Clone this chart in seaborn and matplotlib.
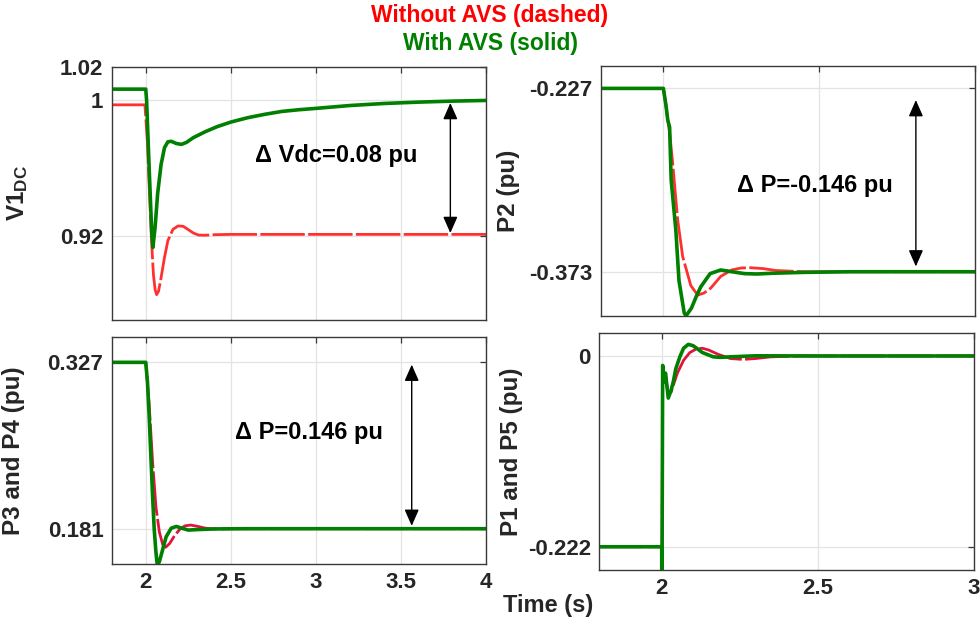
import numpy as np
import pandas as pd
import matplotlib
matplotlib.use("Agg")
import matplotlib.pyplot as plt
import seaborn as sns

sns.set_style("white")
plt.rcParams['font.family'] = ['Liberation Sans', 'DejaVu Sans']
plt.rcParams['mathtext.fontset'] = 'custom'
plt.rcParams['mathtext.rm'] = 'Liberation Sans:bold'
plt.rcParams['mathtext.bf'] = 'Liberation Sans:bold'
plt.rcParams['mathtext.it'] = 'Liberation Sans:bold'

# ---------------- data ----------------
# V1_DC
v1_t_without = [1.8, 1.995, 2.0, 2.01, 2.02, 2.035, 2.045, 2.055, 2.064, 2.075, 2.09, 2.11, 2.13,
                2.16, 2.19, 2.22, 2.25, 2.28, 2.31, 2.35, 2.4, 2.5, 3.0, 4.0]
v1_without = [0.9974, 0.9974, 0.99, 0.975, 0.95, 0.915, 0.897, 0.888, 0.885, 0.887, 0.895, 0.907, 0.917,
              0.9237, 0.9257, 0.9255, 0.9235, 0.9215, 0.9203, 0.9202, 0.9205, 0.9207, 0.9207, 0.9207]
v1_t_with = [1.8, 2.0, 2.005, 2.02, 2.035, 2.042, 2.055, 2.07, 2.09, 2.11, 2.13, 2.15, 2.18, 2.21,
             2.24, 2.28, 2.35, 2.42, 2.5, 2.6, 2.7, 2.8, 2.9, 3.0, 3.2, 3.4, 3.6, 3.8, 4.0]
v1_with = [1.0067, 1.0067, 1.0, 0.96, 0.922, 0.913, 0.925, 0.945, 0.962, 0.972, 0.9755, 0.9758, 0.9745, 0.974,
           0.9752, 0.978, 0.9815, 0.9845, 0.9872, 0.9898, 0.9918, 0.9935, 0.9945, 0.9953, 0.997, 0.9982,
           0.999, 0.9996, 1.0]

# P2
p2_t_without = [1.8, 2.0, 2.008, 2.014, 2.02, 2.03, 2.046, 2.062, 2.088, 2.11, 2.13, 2.152, 2.184,
                2.22, 2.25, 2.28, 2.32, 2.36, 2.45, 2.6, 3.0]
p2_without = [-0.227, -0.227, -0.24, -0.252, -0.262, -0.287, -0.332, -0.361, -0.384, -0.3916, -0.390,
              -0.386, -0.3767, -0.3715, -0.370, -0.3698, -0.3705, -0.372, -0.373, -0.373, -0.373]
p2_t_with = [1.8, 2.0, 2.008, 2.014, 2.02, 2.025, 2.04, 2.05, 2.067, 2.073, 2.09, 2.105, 2.12, 2.15,
             2.184, 2.22, 2.26, 2.3, 2.35, 2.45, 2.6, 3.0]
p2_with = [-0.227, -0.227, -0.24, -0.252, -0.258, -0.2998, -0.340, -0.380, -0.406, -0.408, -0.402,
           -0.393, -0.385, -0.3745, -0.3716, -0.373, -0.3745, -0.3748, -0.3742, -0.3735, -0.373, -0.373]

# P3 and P4
p34_t_without = [1.8, 2.0, 2.02, 2.04, 2.06, 2.08, 2.1, 2.117, 2.14, 2.17, 2.2, 2.23, 2.264, 2.3,
                 2.35, 2.4, 2.5, 4.0]
p34_without = [0.327, 0.327, 0.29, 0.24, 0.2, 0.178, 0.167, 0.1647, 0.168, 0.175, 0.1805, 0.1835,
               0.1842, 0.1832, 0.1815, 0.1808, 0.181, 0.181]
p34_t_with = [1.8, 2.0, 2.01, 2.02, 2.03, 2.04, 2.05, 2.06, 2.068, 2.08, 2.1, 2.12, 2.15, 2.18,
              2.21, 2.25, 2.3, 2.4, 2.6, 4.0]
p34_with = [0.327, 0.327, 0.31, 0.28, 0.245, 0.21, 0.18, 0.16, 0.149, 0.152, 0.163, 0.174, 0.1815,
            0.183, 0.1815, 0.1798, 0.1802, 0.1808, 0.181, 0.181]

# P1 and P5
p15_t_without = [1.8, 2.0, 2.0, 2.001, 2.003, 2.008, 2.012, 2.02, 2.03, 2.05, 2.07, 2.09, 2.11, 2.13,
                 2.15, 2.18, 2.22, 2.26, 2.3, 2.35, 2.45, 3.0]
p15_without = [-0.222, -0.222, -0.25, -0.25, -0.015, -0.025, -0.02, -0.045, -0.042, -0.02, -0.005,
               0.004, 0.008, 0.009, 0.007, 0.002, -0.003, -0.004, -0.003, -0.001, 0.0, 0.0]
p15_t_with = [1.8, 2.0, 2.0, 2.001, 2.003, 2.008, 2.012, 2.021, 2.03, 2.037, 2.045, 2.058, 2.07,
              2.085, 2.1, 2.112, 2.13, 2.144, 2.165, 2.186, 2.22, 2.3, 2.5, 3.0]
p15_with = [-0.222, -0.222, -0.25, -0.25, -0.011, -0.03, -0.02, -0.049, -0.04, -0.03, -0.015, -0.001,
            0.009, 0.0135, 0.012, 0.009, 0.004, 0.002, -0.001, -0.0016, -0.001, 0.0002, 0.0, 0.0]

RED = '#FF3030'
RED2 = '#E0143C'
GREEN = '#007F00'
AXC = '#3a3a3a'

fig = plt.figure(figsize=(9.8, 6.26), dpi=100)

ax_tl = fig.add_axes([0.114, 0.4888, 0.382, 0.4047])
ax_tr = fig.add_axes([0.6133, 0.4957, 0.3817, 0.3988])
ax_bl = fig.add_axes([0.114, 0.099, 0.382, 0.3622])
ax_br = fig.add_axes([0.6115, 0.0895, 0.3824, 0.3781])


def draw(ax, tw, yw, tc, yc, red):
    sns.lineplot(x=tw, y=yw, ax=ax, estimator=None, sort=False, color=red, lw=2.0,
                 linestyle=(0, (16, 1.2)))
    sns.lineplot(x=tc, y=yc, ax=ax, estimator=None, sort=False, color=GREEN, lw=2.6)


draw(ax_tl, v1_t_without, v1_without, v1_t_with, v1_with, RED)
draw(ax_tr, p2_t_without, p2_without, p2_t_with, p2_with, RED)
draw(ax_bl, p34_t_without, p34_without, p34_t_with, p34_with, RED2)
draw(ax_br, p15_t_without, p15_without, p15_t_with, p15_with, RED2)

ax_tl.set_xlim(1.8, 4.0); ax_tl.set_ylim(0.87, 1.02)
ax_tl.set_yticks([0.92, 1.0, 1.02]); ax_tl.set_yticklabels(['0.92', '1', '1.02'])
ax_tl.set_xticks([2, 2.5, 3, 3.5, 4])

ax_tr.set_xlim(1.8, 3.0); ax_tr.set_ylim(-0.408, -0.2092)
ax_tr.set_yticks([-0.373, -0.227]); ax_tr.set_yticklabels(['-0.373', '-0.227'])
ax_tr.set_xticks([2, 2.5, 3])

ax_bl.set_xlim(1.8, 4.0); ax_bl.set_ylim(0.150, 0.349)
ax_bl.set_yticks([0.181, 0.327]); ax_bl.set_yticklabels(['0.181', '0.327'])
ax_bl.set_xticks([2, 2.5, 3, 3.5, 4]); ax_bl.set_xticklabels(['2', '2.5', '3', '3.5', '4'])

ax_br.set_xlim(1.8, 3.0); ax_br.set_ylim(-0.249, 0.0264)
ax_br.set_yticks([-0.222, 0]); ax_br.set_yticklabels(['-0.222', '0'])
ax_br.set_xticks([2, 2.5, 3]); ax_br.set_xticklabels(['2', '2.5', '3'])

for ax in (ax_tl, ax_tr):
    ax.set_xticklabels([])

for ax in (ax_tl, ax_tr, ax_bl, ax_br):
    ax.grid(True, color='#e3e3e3', lw=0.9)
    ax.set_axisbelow(True)
    for s in ax.spines.values():
        s.set_visible(True)
        s.set_color(AXC)
        s.set_linewidth(1.0)
    ax.tick_params(direction='in', length=4, width=0.9, colors=AXC, top=True, right=True,
                   labelsize=16, pad=6)
    for lab in ax.get_xticklabels() + ax.get_yticklabels():
        lab.set_fontweight('bold')
        lab.set_color('#262626')
    ax.set_xlabel('')

ylab_kw = dict(fontsize=17.5, fontweight='bold', color='#262626')
ax_tl.set_ylabel(r'V1$_{\mathbf{DC}}$', **ylab_kw)
ax_tl.yaxis.set_label_coords(-0.218, 0.5)
ax_tr.set_ylabel('P2 (pu)', **ylab_kw)
ax_tr.yaxis.set_label_coords(-0.217, 0.5)
ax_bl.set_ylabel('P3 and P4 (pu)', **ylab_kw)
ax_bl.yaxis.set_label_coords(-0.232, 0.5)
ax_br.set_ylabel('P1 and P5 (pu)', **ylab_kw)
ax_br.yaxis.set_label_coords(-0.204, 0.5)

# annotations
arrow_kw = dict(arrowstyle='<|-|>,head_length=0.5,head_width=0.22', color='black', lw=1.0,
                mutation_scale=20, shrinkA=0, shrinkB=0)
ax_tl.annotate('', xy=(3.79, 0.9985), xytext=(3.79, 0.9215), arrowprops=arrow_kw)
ax_tl.text(3.12, 0.9677, '\u0394 Vdc=0.08 pu', ha='center', va='center', fontsize=17,
           fontweight='bold', color='black')

ax_tr.annotate('', xy=(2.81, -0.2363), xytext=(2.81, -0.3688), arrowprops=arrow_kw)
ax_tr.text(2.487, -0.304, '\u0394 P=-0.146 pu', ha='center', va='center', fontsize=17,
           fontweight='bold', color='black')

ax_bl.annotate('', xy=(3.563, 0.325), xytext=(3.563, 0.1835), arrowprops=arrow_kw)
ax_bl.text(2.96, 0.2652, '\u0394 P=0.146 pu', ha='center', va='center', fontsize=17,
           fontweight='bold', color='black')

fig.text(0.5, 0.975, 'Without AVS (dashed)', color='#FF0000', fontsize=16.5,
         fontweight='bold', ha='center', va='center')
fig.text(0.5, 0.931, 'With AVS (solid)', color='#008000', fontsize=16.5,
         fontweight='bold', ha='center', va='center')
fig.text(0.559, 0.032, 'Time (s)', color='#262626', fontsize=17,
         fontweight='bold', ha='center', va='center')

fig.savefig('out.png', dpi=100)
